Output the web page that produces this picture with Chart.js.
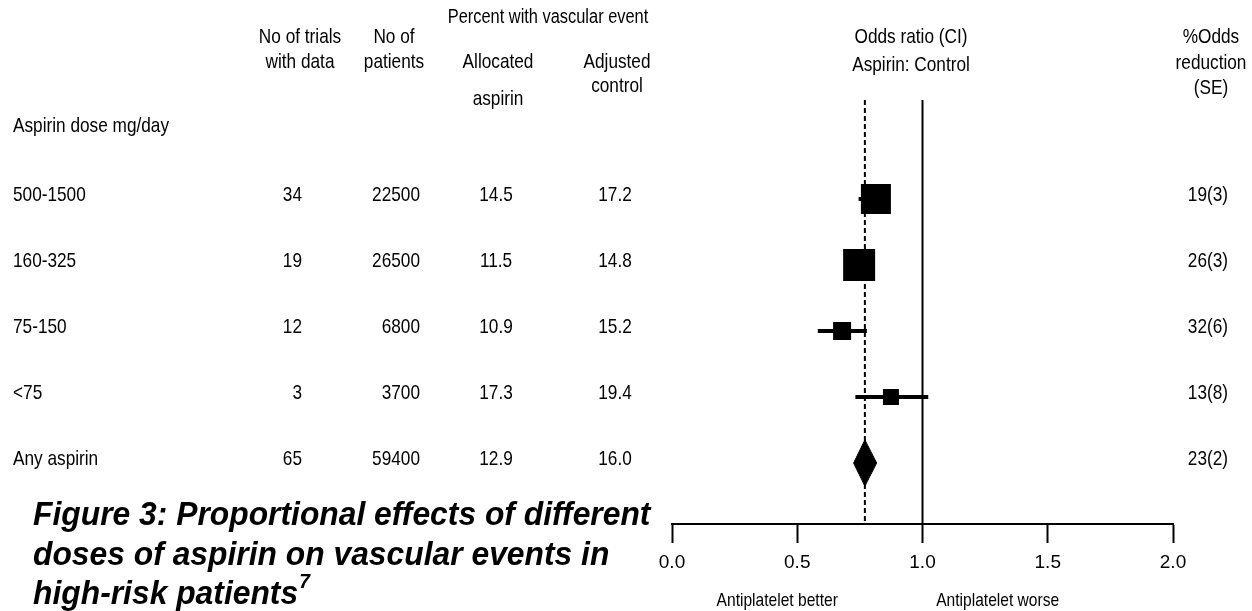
<!DOCTYPE html>
<html>
<head>
<meta charset="utf-8">
<script src="https://cdn.jsdelivr.net/npm/chart.js@4.4.1/dist/chart.umd.min.js"></script>
<style>
  html, body { margin: 0; padding: 0; background: #fff; }
  #wrap { width: 1252px; height: 611px; }
</style>
</head>
<body>
<div id="wrap"><canvas id="forest"></canvas></div>
<script>
// --- dados ---
const doseLabels = ['500-1500', '160-325', '75-150', '<75', 'Any aspirin'];
const trials = [34, 19, 12, 3, 65];
const patients = [22500, 26500, 6800, 3700, 59400];
const pctAspirin = ['14.5', '11.5', '10.9', '17.3', '12.9'];
const pctControl = ['17.2', '14.8', '15.2', '19.4', '16.0'];
const oddsRatio = [0.814, 0.747, 0.679, 0.874, 0.77];
const ciLow = [0.745, 0.70, 0.582, 0.732, 0.725];
const ciHigh = [0.86, 0.80, 0.778, 1.023, 0.817];
const reduction = ['19(3)', '26(3)', '32(6)', '13(8)', '23(2)'];
const xTicks = [0.0, 0.5, 1.0, 1.5, 2.0];

// estilo (lado dos quadrados em px)
const boxSide = [30, 32, 18, 16];

// fonte estreita simulada (Arial Narrow não existe aqui)
const FAM = '"Liberation Sans", Arial';
const SX = 0.82;
const FS = 21;

const nRows = doseLabels.length;
const overall = oddsRatio[nRows - 1];

// linhas de IC com quebras (null) entre as linhas
const ciData = [];
for (let i = 0; i < nRows - 1; i++) {
  ciData.push({ x: ciLow[i], y: i + 1 }, { x: ciHigh[i], y: i + 1 }, { x: null, y: null });
}
const boxData = [];
for (let i = 0; i < nRows - 1; i++) boxData.push({ x: oddsRatio[i], y: i + 1 });

const dh = 0.35; // meia altura do losango (em linhas)
const yo = nRows;
const diamondData = [
  { x: ciLow[nRows - 1], y: yo },
  { x: overall, y: yo - dh },
  { x: ciHigh[nRows - 1], y: yo },
  { x: overall, y: yo + dh },
  { x: ciLow[nRows - 1], y: yo }
];

const Y_MIN = -0.5, Y_MAX = 5.924;

// texto da tabela e títulos
const tablePlugin = {
  id: 'tableText',
  afterDraw(chart) {
    const ctx = chart.ctx;
    const ys = chart.scales.y;
    function txt(s, x, y, align, font, sx, base) {
      ctx.save();
      ctx.font = font || (FS + 'px ' + FAM);
      ctx.fillStyle = '#000';
      ctx.textBaseline = base || 'middle';
      ctx.textAlign = align || 'center';
      ctx.translate(x, y);
      ctx.scale(sx || SX, 1);
      ctx.fillText(s, 0, 0);
      ctx.restore();
    }
    // cabeçalhos
    txt('Percent with vascular event', 548, 17, 'center', '20px ' + FAM);
    txt('No of trials', 300, 37);
    txt('with data', 300, 62);
    txt('No of', 394, 37);
    txt('patients', 394, 62);
    txt('Allocated', 498, 62);
    txt('aspirin', 498, 99);
    txt('Adjusted', 617, 62);
    txt('control', 617, 86);
    txt('Aspirin dose mg/day', 13, 126, 'left');
    txt('Odds ratio (CI)', 911, 37);
    txt('Aspirin: Control', 911, 65);
    txt('%Odds', 1211, 37);
    txt('reduction', 1211, 63);
    txt('(SE)', 1211, 88);

    for (let i = 0; i < nRows; i++) {
      const y = ys.getPixelForValue(i + 1) - 4;
      txt(doseLabels[i], 13, y, 'left');
      txt(String(trials[i]), 302, y, 'right');
      txt(String(patients[i]), 420, y, 'right');
      txt(pctAspirin[i], 496, y);
      txt(pctControl[i], 615, y);
      txt(reduction[i], 1228, y, 'right');
    }
    // título
    const TSX = 0.964;
    const tf = 'italic bold 33px ' + FAM;
    txt('Figure 3: Proportional effects of different', 33, 525, 'left', tf, TSX, 'alphabetic');
    txt('doses of aspirin on vascular events in', 33, 565, 'left', tf, TSX, 'alphabetic');
    txt('high-risk patients', 33, 604, 'left', tf, TSX, 'alphabetic');
    ctx.save();
    ctx.font = tf;
    const w = ctx.measureText('high-risk patients').width * TSX;
    ctx.restore();
    txt('7', 33 + w + 1, 588, 'left', 'italic bold 20px ' + FAM, TSX, 'alphabetic');

    // rótulos abaixo do eixo
    const xs = chart.scales.x;
    txt('Antiplatelet better', xs.getPixelForValue(0.42), 601, 'center', '19px ' + FAM);
    txt('Antiplatelet worse', xs.getPixelForValue(1.30), 601, 'center', '19px ' + FAM);
  }
};

new Chart(document.getElementById('forest'), {
  type: 'scatter',
  data: {
    datasets: [
      {
        type: 'line',
        data: [{ x: 1, y: Y_MIN }, { x: 1, y: Y_MAX }],
        borderColor: '#000', borderWidth: 2, pointRadius: 0
      },
      {
        type: 'line',
        data: [{ x: overall, y: Y_MIN }, { x: overall, y: Y_MAX }],
        borderColor: '#000', borderWidth: 2, borderDash: [5, 3], pointRadius: 0
      },
      {
        type: 'line',
        data: ciData,
        borderColor: '#000', borderWidth: 4, pointRadius: 0, spanGaps: false
      },
      {
        data: boxData,
        pointStyle: 'rect',
        pointRadius: boxSide.map(s => s / 2 / Math.SQRT1_2),
        pointHoverRadius: boxSide.map(s => s / 2 / Math.SQRT1_2),
        backgroundColor: '#000', borderColor: '#000', borderWidth: 0
      },
      {
        type: 'line',
        data: diamondData,
        borderColor: '#000', borderWidth: 1, backgroundColor: '#000',
        fill: 'shape', pointRadius: 0, tension: 0
      }
    ]
  },
  options: {
    responsive: true,
    maintainAspectRatio: false,
    animation: false,
    events: [],
    layout: { padding: { left: 672, right: 79, top: 100, bottom: 0 } },
    plugins: { legend: { display: false }, tooltip: { enabled: false } },
    scales: {
      x: {
        type: 'linear',
        min: 0, max: 2,
        afterBuildTicks: (s) => { s.ticks = xTicks.map(v => ({ value: v })); },
        afterFit: (s) => { s.height = 611 - 524; },
        border: { display: true, color: '#000', width: 2 },
        grid: { drawOnChartArea: false, drawTicks: true, tickLength: 19, tickColor: '#000', tickWidth: 2 },
        ticks: {
          color: '#000', padding: 8, maxRotation: 0,
          font: { family: FAM, size: 19 },
          callback: (v) => Number(v).toFixed(1)
        }
      },
      y: {
        type: 'linear',
        display: false,
        reverse: true,
        min: Y_MIN, max: Y_MAX
      }
    }
  },
  plugins: [tablePlugin]
});
</script>
</body>
</html>
